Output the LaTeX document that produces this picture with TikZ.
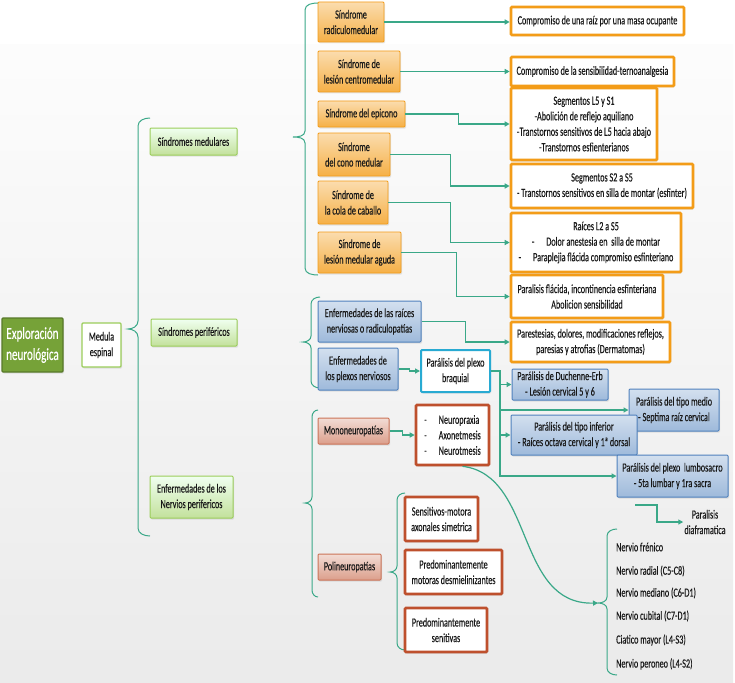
\documentclass[tikz,border=0pt]{standalone}
\usepackage{fontspec}
\setmainfont{Carlito}[FakeStretch=0.65,FakeBold=0.3]
\usepackage{xcolor}
\usepackage{tikz}
\usetikzlibrary{arrows.meta,calc,shadows}
\definecolor{lnk}{RGB}{58,168,136}
\definecolor{orng}{RGB}{243,156,24}
\definecolor{grn}{RGB}{155,205,90}
\definecolor{olv}{RGB}{118,162,56}
\definecolor{blu}{RGB}{79,129,189}
\definecolor{cyn}{RGB}{40,170,210}
\definecolor{rd}{RGB}{190,80,45}

\begin{document}
\begin{tikzpicture}[x=1pt,y=-1pt,font=\fontsize{12.5}{15.5}\selectfont,
		box/.style={draw,rounded corners=1pt,align=center,inner sep=1pt,text=black!90,
			drop shadow={opacity=0.18,shadow xshift=1pt,shadow yshift=-1.5pt}},
		root/.style={box,fill=olv,draw=olv!75!black,line width=1.4pt,text=white,font=\fontsize{17}{21}\selectfont},
		medula/.style={box,fill=white,draw=grn,line width=1.2pt},
		cat/.style={box,top color=green!6,bottom color=grn!60,draw=grn,line width=1pt},
		sindr/.style={box,top color=orng!35,bottom color=orng!80,draw=orng,line width=0.8pt},
		res/.style={box,fill=white,draw=orng,line width=2.6pt},
		plexo/.style={box,top color=blu!25,bottom color=blu!55,draw=blu,line width=1pt},
		braq/.style={box,fill=white,draw=cyn,line width=2pt},
		neuro/.style={box,top color=rd!20,bottom color=rd!55,draw=rd!80,line width=1pt},
		redbox/.style={box,fill=white,draw=rd,line width=2.6pt},
		plain/.style={align=center,inner sep=1pt,text=black!90},
		ar/.style={-{Triangle[length=5pt,width=5pt]},lnk,line width=1.2pt},
		brc/.style={lnk,line width=1pt}]
		% fondo
		\fill[white] (0,0) rectangle (735,682);
		\shade[top color=gray!2,bottom color=gray!16] (0,45) rectangle (733,682);
		% llaves
		\draw[brc] (150,118) to[out=180,in=90] (138,126) -- (138,321) to[out=-90,in=0] (128,329) to[out=0,in=90] (138,337) -- (138,528) to[out=-90,in=180] (150,536);
		\draw[brc] (318,3) to[out=180,in=90] (305,10) -- (305,131) to[out=-90,in=0] (293,137) to[out=0,in=90] (305,143) -- (305,268) to[out=-90,in=180] (318,275);
		\draw[brc] (320,297) to[out=180,in=90] (311,304) -- (311,336) to[out=-90,in=0] (303,342) to[out=0,in=90] (311,348) -- (311,381) to[out=-90,in=180] (320,388);
		\draw[brc] (318,410) to[out=180,in=90] (312,417) -- (312,497) to[out=-90,in=0] (305,503) to[out=0,in=90] (312,509) -- (312,590) to[out=-90,in=180] (318,597);
		\draw[brc] (405,493) to[out=180,in=90] (397,500) -- (397,566) to[out=-90,in=0] (390,572) to[out=0,in=90] (397,578) -- (397,643) to[out=-90,in=180] (405,650);
		\draw[brc] (617,529) to[out=180,in=90] (607,536) -- (607,597) to[out=-90,in=0] (598,603) to[out=0,in=90] (607,609) -- (607,668) to[out=-90,in=180] (617,675);
		\coordinate (nvtip) at (598,603);
		% nivel 1 y 2
		\node[root,minimum width=61,minimum height=54] (expl) at (32.5,345) {Exploración\\neurológica};
		\node[medula,minimum width=39,minimum height=44] (med) at (101.5,345) {Medula\\espinal};
		\node[cat,minimum width=87,minimum height=27] (smed) at (193.5,141.5) {Síndromes medulares};
		\node[cat,minimum width=86,minimum height=27] (sper) at (194,332.5) {Síndromes periféricos};
		\node[cat,minimum width=83,minimum height=42] (enp) at (191.5,497) {Enfermedades de los\\Nervios perifericos};
		% sindromes medulares
		\node[sindr,minimum width=66,minimum height=40] (s1) at (351,22) {Síndrome\\radiculomedular};
		\node[sindr,minimum width=82,minimum height=41] (s2) at (359,71.5) {Síndrome de\\lesión centromedular};
		\node[sindr,minimum width=87,minimum height=26] (s3) at (361.5,114) {Síndrome del epicono};
		\node[sindr,minimum width=72,minimum height=43] (s4) at (354,154.5) {Síndrome\\del cono medular};
		\node[sindr,minimum width=70,minimum height=43] (s5) at (353,202.5) {Síndrome de\\la cola de caballo};
		\node[sindr,minimum width=83,minimum height=41] (s6) at (359.5,252.5) {Síndrome de\\lesión medular aguda};
		\node[res,minimum width=173,minimum height=28] (r1) at (597.5,21) {Compromiso de una raíz por una masa ocupante};
		\node[res,minimum width=163,minimum height=29] (r2) at (592.5,71.5) {Compromiso de la sensibilidad-ternoanalgesia};
		\node[res,minimum width=146,minimum height=72] (r3) at (584,124) {Segmentos L5 y S1\\-Abolición de reflejo aquiliano\\-Transtornos sensitivos de L5 hacia abajo\\-Transtornos esfienterianos};
		\node[res,minimum width=182,minimum height=44] (r4) at (602,186) {Segmentos S2 a S5\\- Transtornos sensitivos en silla de montar (esfinter)};
		\node[res,minimum width=170,minimum height=59] (r5) at (596,242.5) {Raíces L2 a S5\\-\hspace{12pt}Dolor anestesia en\ \ silla de montar\\-\hspace{12pt}Paraplejia flácida compromiso esfinteriano};
		\node[res,minimum width=152,minimum height=43] (r6) at (587,296.5) {Paralisis flácida, incontinencia esfinteriana\\Abolicion sensibilidad};
		\node[res,minimum width=159,minimum height=40] (r7) at (590.5,342) {Parestesias, dolores, modificaciones reflejos,\\paresias y atrofias (Dermatomas)};
		% sindromes perifericos
		\node[plexo,minimum width=103,minimum height=41] (raic) at (369.5,321.5) {Enfermedades de las raíces\\nerviosas o radiculopatías};
		\node[plexo,minimum width=80,minimum height=42] (plex) at (358,369) {Enfermedades de\\los plexos nerviosos};
		\node[braq,minimum width=69,minimum height=42] (pbraq) at (455.5,371) {Parálisis del plexo\\braquial};
		\node[plexo,minimum width=96,minimum height=31] (duch) at (560,384.5) {Parálisis de Duchenne-Erb\\- Lesión cervical 5 y 6};
		\node[plexo,minimum width=90,minimum height=42] (medio) at (674,410) {Parálisis del tipo medio\\- Septima raíz cervical};
		\node[plexo,minimum width=126,minimum height=40] (infer) at (574,435) {Parálisis del tipo inferior\\- Raíces octava cervical y 1ª dorsal};
		\node[plexo,minimum width=111,minimum height=42] (lumbo) at (672.5,476) {Parálisis del plexo\ \ lumbosacro\\- 5ta lumbar y 1ra sacra};
		\node[plain] (diaf) at (705,522) {Paralisis\\diaframatica};
		\coordinate (dstart) at (635,505);
		% nervios perifericos
		\node[neuro,minimum width=71,minimum height=26] (mono) at (353.5,431) {Mononeuropatías};
		\node[neuro,minimum width=63,minimum height=26] (poli) at (349.5,567) {Polineuropatías};
		\node[redbox,minimum width=73,minimum height=60,align=left] (mlist) at (452.5,435) {-\hspace{12pt}Neuropraxia\\-\hspace{12pt}Axonetmesis\\-\hspace{12pt}Neurotmesis};
		\node[redbox,minimum width=73,minimum height=44] (p1) at (441.5,519) {Sensitivos-motora\\axonales simetrica};
		\node[redbox,minimum width=97,minimum height=44] (p2) at (453.5,572) {Predominantemente\\motoras desmielinizantes};
		\node[redbox,minimum width=82,minimum height=44] (p3) at (446,630) {Predominantemente\\senitivas};
		\node[plain,anchor=west] (n1) at (615,547) {Nervio frénico};
		\node[plain,anchor=west] (n2) at (615,571) {Nervio radial (C5-C8)};
		\node[plain,anchor=west] (n3) at (615,593) {Nervio mediano (C6-D1)};
		\node[plain,anchor=west] (n4) at (615,616) {Nervio cubital (C7-D1)};
		\node[plain,anchor=west] (n5) at (615,640) {Ciatico mayor (L4-S3)};
		\node[plain,anchor=west] (n6) at (615,664) {Nervio peroneo (L4-S2)};
		% conectores
		\draw[ar] (s1.east) -- (r1.west |- s1.east);
		\draw[ar] (s2.east) -- (r2.west |- s2.east);
		\draw[ar] (s3.east) -- ++(53,0) |- (r3.west);
		\draw[ar] (s4.east) -- ++(60,0) |- (r4.west);
		\draw[ar] (s5.east) -- ++(62,0) |- (r5.west);
		\draw[ar] (s6.east) -- ++(55,0) |- (r6.west);
		\draw[ar] (raic.east) -- ++(44,0) |- (r7.west);
		\draw[ar] (plex.east) -- ++(11,0) |- (pbraq.west);
		\coordinate (trunk) at (500,371);
		\draw[ar] (pbraq.east) -- (trunk) |- (lumbo.west);
		\draw[ar] (trunk) |- (duch.west);
		\draw[ar] (trunk) |- (medio.west);
		\draw[ar] (trunk) |- (infer.west);
		\draw[ar] (dstart) -- ++(22,0) |- (diaf.west);
		\draw[ar] (mono.east) -- ++(13,0) |- (mlist.west);
		\draw[ar] ([xshift=10pt]mlist.south) .. controls (535,475) and (515,605) .. (nvtip);
	\end{tikzpicture}
\end{document}
